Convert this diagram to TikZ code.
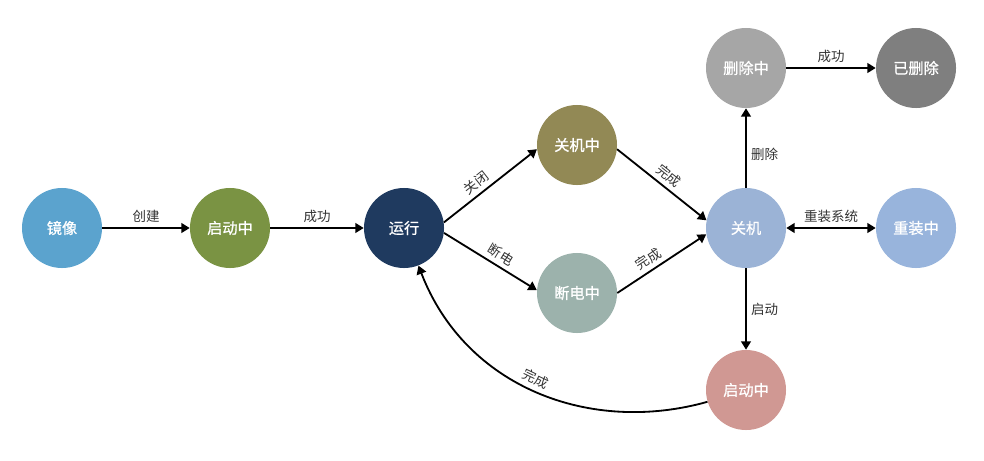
\documentclass[tikz,border=0pt]{standalone}
\usepackage{fontspec}
\setmainfont{Noto Sans CJK SC}
\newfontfamily\statefont[FakeBold=0.9]{Noto Sans CJK SC}
\usetikzlibrary{arrows.meta}
\definecolor{labgray}{HTML}{333333}
\definecolor{mirrorblue}{HTML}{5BA3CE}
\definecolor{bootgreen}{HTML}{7A9343}
\definecolor{runnavy}{HTML}{1F3A5F}
\definecolor{shutolive}{HTML}{928955}
\definecolor{cutsage}{HTML}{9CB2AC}
\definecolor{offblue}{HTML}{9BB3D6}
\definecolor{delgray}{HTML}{A6A6A6}
\definecolor{gonegray}{HTML}{7F7F7F}
\definecolor{reblue}{HTML}{98B4DC}
\definecolor{bootpink}{HTML}{D09893}
\tikzset{
  state/.style = {circle, minimum size = 2cm, inner sep = 0pt,
                  text = white, font = \statefont\fontsize{10.8}{12}\selectfont},
  arr/.style   = {-{Triangle[length=6pt,width=7pt]}, line width = 1.3pt},
  lab/.style   = {font = \fontsize{9.6}{11}\selectfont, text = labgray,
                  inner sep = 3pt}
}
\begin{document}
\begin{tikzpicture}[x=0.025cm, y=0.025cm]
    \useasboundingbox (0,0) rectangle (984,-460);
    \node[state,fill=mirrorblue] (mirror) at (62,-228) {镜像};
    \node[state,fill=bootgreen] (boot) at (230,-228) {启动中};
    \node[state,fill=runnavy] (run) at (404,-228) {运行};
    \node[state,fill=shutolive] (shutting) at (577,-145) {关机中};
    \node[state,fill=cutsage] (cutting) at (577,-293) {断电中};
    \node[state,fill=offblue] (off) at (746,-228) {关机};
    \node[state,fill=delgray] (deleting) at (746,-68) {删除中};
    \node[state,fill=gonegray] (deleted) at (916,-68) {已删除};
    \node[state,fill=reblue] (reinst) at (916,-228) {重装中};
    \node[state,fill=bootpink] (reboot) at (746,-390) {启动中};
    \draw[arr] (mirror)--node[lab,above]{创建}(boot);
    \draw[arr] (boot)--node[lab,above]{成功}(run);
    \draw[arr] (run.8)--node[lab,sloped,above,pos=.42]{关闭}(shutting.186);
    \draw[arr] (run.-7)--node[lab,sloped,above,pos=.55]{断电}(cutting.176);
    \draw[arr] (shutting.-6)--node[lab,sloped,above]{完成}(off.169);
    \draw[arr] (cutting.0)--node[lab,sloped,above,pos=.42]{完成}(off.189);
    \draw[arr] (off)--node[lab,right,pos=.42]{删除}(deleting);
    \draw[arr] (deleting)--node[lab,above]{成功}(deleted);
    \draw[arr,{Triangle[length=6pt,width=7pt]}-{Triangle[length=6pt,width=7pt]}] (off)--node[lab,above]{重装系统}(reinst);
    \draw[arr] (off)--node[lab,right]{启动}(reboot);
    \draw[arr,{Triangle[length=6pt,width=7pt]}-] (run.-69) .. controls +(47,-122) and +(-117,-33) .. node[lab,sloped,above,pos=.48]{完成} (reboot.197);
\end{tikzpicture}
\end{document}
